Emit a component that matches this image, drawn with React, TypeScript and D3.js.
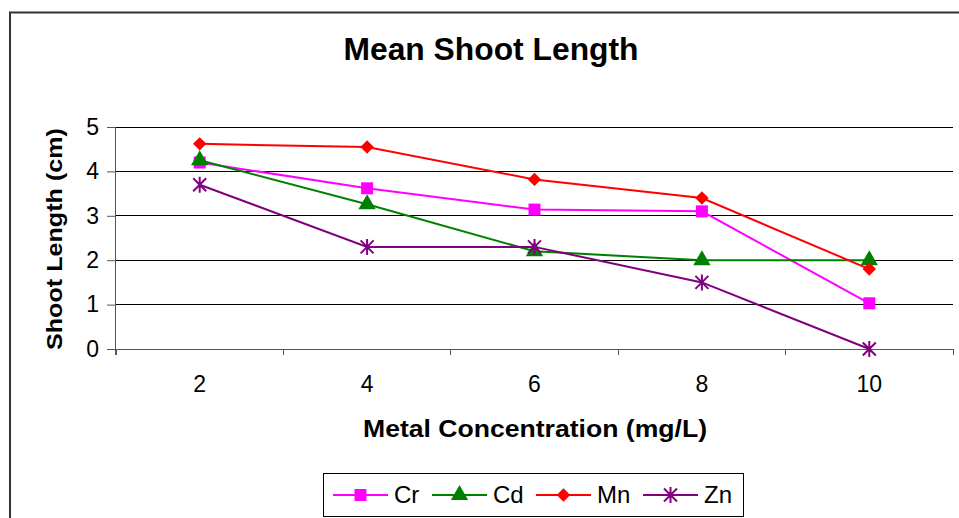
import React, { useEffect, useRef } from "react";
import * as d3 from "d3";

const W = 959;
const H = 518;

const concentrations = ["2", "4", "6", "8", "10"];
const yTicks = [0, 1, 2, 3, 4, 5];

const crValues = [4.2, 3.62, 3.14, 3.1, 1.03];
const cdValues = [4.25, 3.26, 2.2, 2.0, 2.0];
const mnValues = [4.62, 4.55, 3.82, 3.4, 1.8];
const znValues = [3.7, 2.3, 2.3, 1.5, 0];

const seriesNames = ["Cr", "Cd", "Mn", "Zn"];
const seriesColors = ["#ff00ff", "#008000", "#ff0000", "#800080"];
const seriesShapes = ["square", "triangle", "diamond", "star"];

const FONT = "Liberation Sans, Arial, sans-serif";

const App = () => {
  const ref = useRef<SVGSVGElement>(null);

  useEffect(() => {
    const svg = d3.select(ref.current);
    svg.selectAll("*").remove();

    const series = [crValues, cdValues, mnValues, znValues].map((values, i) => ({
      name: seriesNames[i],
      color: seriesColors[i],
      shape: seriesShapes[i],
      values,
    }));

    // outer chart frame (only left + top edges are in view)
    svg
      .append("path")
      .attr("d", `M10,${H} V12.5 H${W}`)
      .attr("fill", "none")
      .attr("stroke", "#333")
      .attr("stroke-width", 2);

    const left = 116;
    const right = 953;
    const top = 127;
    const bottom = 349;

    const x = d3.scaleBand().domain(concentrations).range([left, right]);
    const y = d3.scaleLinear().domain([0, 5]).range([bottom, top]);

    // title
    svg
      .append("text")
      .attr("x", 491)
      .attr("y", 60)
      .attr("text-anchor", "middle")
      .attr("font-family", FONT)
      .attr("font-weight", "bold")
      .attr("font-size", 31)
      .attr("textLength", 295)
      .attr("lengthAdjust", "spacingAndGlyphs")
      .text("Mean Shoot Length");

    // gridlines
    svg
      .append("g")
      .selectAll("line")
      .data(yTicks.filter((t) => t > 0))
      .join("line")
      .attr("x1", left)
      .attr("x2", right)
      .attr("y1", (d) => y(d))
      .attr("y2", (d) => y(d))
      .attr("stroke", "#000")
      .attr("stroke-width", 1)
      .attr("shape-rendering", "crispEdges");

    // y axis
    const yAxis = svg
      .append("g")
      .attr("transform", `translate(${left},0)`)
      .call(d3.axisLeft(y).tickValues(yTicks).tickSize(9).tickPadding(8).tickFormat(d3.format("d")));
    yAxis.select(".domain").attr("stroke", "#555").attr("d", `M-0.5,${top}V${bottom + 6}`);
    yAxis.selectAll(".tick line").attr("stroke", "#555");
    yAxis
      .selectAll("text")
      .attr("font-family", FONT)
      .attr("font-size", 23)
      .attr("fill", "#000");

    // x axis
    const xAxis = svg.append("g").attr("transform", `translate(0,${bottom})`);
    xAxis
      .append("line")
      .attr("x1", left)
      .attr("x2", right)
      .attr("stroke", "#555")
      .attr("shape-rendering", "crispEdges");
    xAxis
      .selectAll("line.tk")
      .data([...concentrations.map((c) => x(c)!), right])
      .join("line")
      .attr("class", "tk")
      .attr("x1", (d) => d)
      .attr("x2", (d) => d)
      .attr("y1", 0)
      .attr("y2", 6)
      .attr("stroke", "#555")
      .attr("shape-rendering", "crispEdges");
    xAxis
      .selectAll("text")
      .data(concentrations)
      .join("text")
      .attr("x", (d) => x(d)! + x.bandwidth() / 2)
      .attr("y", 43)
      .attr("text-anchor", "middle")
      .attr("font-family", FONT)
      .attr("font-size", 23)
      .text((d) => d);

    // axis titles
    svg
      .append("text")
      .attr("transform", "translate(62,239) rotate(-90)")
      .attr("text-anchor", "middle")
      .attr("font-family", FONT)
      .attr("font-weight", "bold")
      .attr("font-size", 22)
      .attr("textLength", 222)
      .attr("lengthAdjust", "spacingAndGlyphs")
      .text("Shoot Length (cm)");
    svg
      .append("text")
      .attr("x", 535)
      .attr("y", 437)
      .attr("text-anchor", "middle")
      .attr("font-family", FONT)
      .attr("font-weight", "bold")
      .attr("font-size", 23.5)
      .attr("textLength", 344)
      .attr("lengthAdjust", "spacingAndGlyphs")
      .text("Metal Concentration (mg/L)");

    const drawMarker = (g: any, shape: string, color: string) => {
      if (shape === "star") {
        g.append("path")
          .attr("d", "M-6.5,-6.5L6.5,6.5M-6.5,6.5L6.5,-6.5M0,-8V8")
          .attr("stroke", color)
          .attr("stroke-width", 2)
          .attr("fill", "none");
      } else if (shape === "diamond") {
        g.append("path")
          .attr("d", d3.symbol(d3.symbolSquare, 90)())
          .attr("transform", "rotate(45)")
          .attr("fill", color);
      } else if (shape === "square") {
        g.append("path").attr("d", d3.symbol(d3.symbolSquare, 144)()).attr("fill", color);
      } else {
        g.append("path").attr("d", d3.symbol(d3.symbolTriangle, 130)()).attr("fill", color);
      }
    };

    const line = d3
      .line<number>()
      .x((_, i) => x(concentrations[i])! + x.bandwidth() / 2)
      .y((d) => y(d));

    series.forEach((s) => {
      svg
        .append("path")
        .attr("d", line(s.values))
        .attr("fill", "none")
        .attr("stroke", s.color)
        .attr("stroke-width", 2);
      s.values.forEach((v, i) => {
        const g = svg
          .append("g")
          .attr("transform", `translate(${x(concentrations[i])! + x.bandwidth() / 2},${y(v)})`);
        drawMarker(g, s.shape, s.color);
      });
    });

    // legend
    const legend = svg.append("g");
    legend
      .append("rect")
      .attr("x", 323.5)
      .attr("y", 473.5)
      .attr("width", 420)
      .attr("height", 43)
      .attr("fill", "#fff")
      .attr("stroke", "#000");
    const itemX = [333, 432, 536, 643];
    series.forEach((s, i) => {
      const g = legend.append("g").attr("transform", `translate(${itemX[i]},495)`);
      g.append("line")
        .attr("x1", 0)
        .attr("x2", 55)
        .attr("stroke", s.color)
        .attr("stroke-width", 2);
      const m = g.append("g").attr("transform", "translate(27.5,0)");
      drawMarker(m, s.shape, s.color);
      g.append("text")
        .attr("x", 61)
        .attr("y", 8)
        .attr("font-family", FONT)
        .attr("font-size", 24)
        .text(s.name);
    });
  }, []);

  return (
    <svg
      ref={ref}
      width={W}
      height={H}
      style={{ position: "absolute", left: 0, top: 0, background: "#fff" }}
    />
  );
};

export default App;
